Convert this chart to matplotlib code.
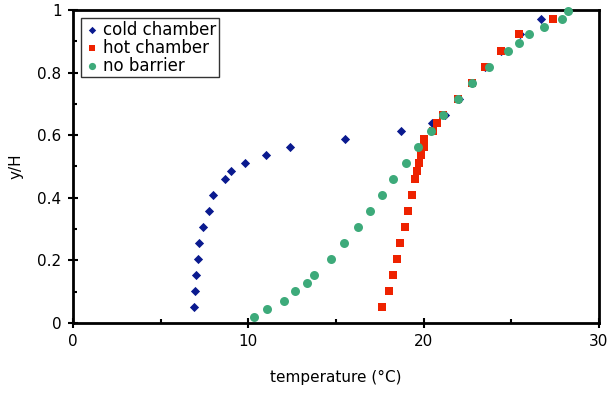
import matplotlib
matplotlib.use("Agg")
import matplotlib.pyplot as plt
from matplotlib.ticker import MultipleLocator

cold_x = [6.90, 6.96, 7.0, 7.13, 7.19, 7.42, 7.76, 7.99, 8.67, 9.0, 9.8, 11.0, 12.4, 15.5, 18.7,
          20.5, 21.2, 22.0, 22.76, 23.5, 24.4, 25.5, 26.7]
cold_y = [0.051, 0.102, 0.153, 0.204, 0.256, 0.307, 0.358, 0.409, 0.460, 0.486, 0.511, 0.537, 0.562, 0.588, 0.613,
          0.639, 0.665, 0.717, 0.768, 0.819, 0.870, 0.922, 0.972]

hot_x = [17.6, 18.0, 18.25, 18.5, 18.67, 18.94, 19.11, 19.34, 19.53, 19.62, 19.72, 19.87, 20.04, 20.0,
         20.52, 20.78, 21.1, 21.95, 22.76, 23.5, 24.4, 25.42, 27.4]
hot_y = [0.052, 0.102, 0.153, 0.204, 0.257, 0.307, 0.359, 0.409, 0.461, 0.487, 0.512, 0.538, 0.563, 0.589,
         0.614, 0.639, 0.665, 0.717, 0.768, 0.819, 0.870, 0.922, 0.972]

nob_x = [10.3, 11.05, 12.04, 12.68, 13.35, 13.77, 14.74, 15.48, 16.28, 16.96, 17.61, 18.27, 18.97, 19.68,
         20.4, 21.12, 21.95, 22.76, 23.73, 24.83, 25.42, 26.0, 26.85, 27.88, 28.25]
nob_y = [0.020, 0.046, 0.071, 0.102, 0.128, 0.153, 0.204, 0.257, 0.307, 0.359, 0.409, 0.460, 0.512, 0.563,
         0.614, 0.665, 0.717, 0.768, 0.819, 0.870, 0.896, 0.922, 0.947, 0.972, 0.998]

x_ticks = [0, 10, 20, 30]
y_ticks = [0, 0.2, 0.4, 0.6, 0.8, 1.0]
y_tick_labels = ['0', '0.2', '0.4', '0.6', '0.8', '1']

fig = plt.figure(figsize=(6.1, 3.94), dpi=100)
ax = fig.add_axes([73/610, 1-323/394, (599-73)/610, (323-10)/394])

ax.scatter(cold_x, cold_y, marker='D', s=22, color='#0A1A8F', linewidths=0, label='cold chamber', zorder=3, clip_on=False)
ax.scatter(hot_x, hot_y, marker='s', s=38, color='#EE2200', linewidths=0, label='hot chamber', zorder=4, clip_on=False)
ax.scatter(nob_x, nob_y, marker='o', s=42, color='#3DAA7A', linewidths=0, label='no barrier', zorder=5, clip_on=False)

ax.set_xlim(0, 30)
ax.set_ylim(0, 1)
ax.set_xticks(x_ticks)
ax.set_xticklabels([str(v) for v in x_ticks])
ax.set_yticks(y_ticks)
ax.set_yticklabels(y_tick_labels)
ax.xaxis.set_minor_locator(MultipleLocator(5))
ax.yaxis.set_minor_locator(MultipleLocator(0.1))

ax.tick_params(which='major', direction='inout', length=6.5, width=1.5, labelsize=11, pad=5, colors='black')
ax.tick_params(which='minor', direction='in', length=3, width=1.5)
for s in ax.spines.values():
    s.set_linewidth(2)
    s.set_color('black')

ax.set_xlabel('temperature (°C)', fontsize=11, labelpad=15)
ax.set_ylabel('y/H', fontsize=11, labelpad=10)

leg = ax.legend(loc='upper left', fontsize=12, frameon=True, fancybox=False, handletextpad=0.15,
                handlelength=1.0, borderpad=0.15, labelspacing=0.0, borderaxespad=0.5, markerscale=0.8)
leg.get_frame().set_edgecolor('black')
leg.get_frame().set_linewidth(1)

fig.savefig('out.png', dpi=100)
